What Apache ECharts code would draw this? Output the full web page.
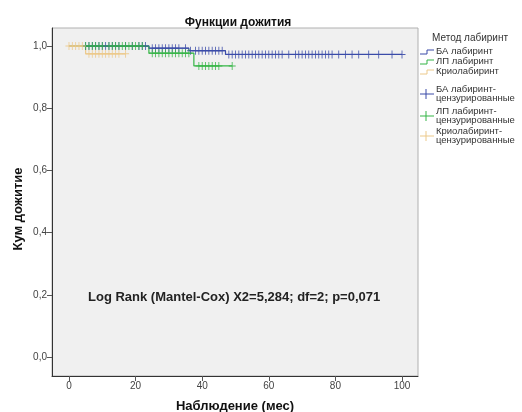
<!DOCTYPE html>
<html>
<head>
<meta charset="utf-8">
<script src="https://cdn.jsdelivr.net/npm/echarts@6/dist/echarts.min.js"></script>
<style>
html,body{margin:0;padding:0;background:#fff;}
#c{width:522px;height:412px;}
</style>
</head>
<body>
<div id="c"></div>
<script>
// ---- Data ----
var title = 'Функции дожития';
var xName = 'Наблюдение (мес)';
var yName = 'Кум дожитие';
var testText = 'Log Rank (Mantel-Cox) X2=5,284; df=2; p=0,071';
var legendTitle = 'Метод лабиринт';
var groupNames = ['БА лабиринт', 'ЛП лабиринт', 'Криолабиринт'];
var censNames = ['БА лабиринт-\nцензурированные', 'ЛП лабиринт-\nцензурированные', 'Криолабиринт-\nцензурированные'];
var xTicks = [0, 20, 40, 60, 80, 100];
var yTicks = [0, 0.2, 0.4, 0.6, 0.8, 1.0];

// Kaplan–Meier steps: [time, survival]
var stepsBA = [[0, 1.0], [24, 0.993], [36, 0.985], [47, 0.973], [100, 0.973]];
var stepsLP = [[0, 1.0], [24, 0.977], [37.5, 0.936], [49, 0.936]];
var stepsCryo = [[0, 1.0], [5, 0.975], [17, 0.975]];

// Censored times
var censBA = [5,6,7,8,9,10,11,12,13,14,15,17,19,21,22,23,25,26,27,28,29,30,31,32,33,35,36.5,38,39,40,41,42,43,44,45,46,48,49,50,51,52,53,54,55,56,57,58,59,60,61,62,63,64,66,68,69,70,71,72,73,74,75,76,77,78,79,81,83,85,87,90,93,97,100];
var censLP = [5,6,7,8,9,10,12,13,14,15,16,17,18,19,20,21,22,25,26,27,28,29,30,31,32,33,34,35,36,39,40,41,42,43,44,45,49];
var censCryo = [0,1,2,3,4,6,7,8,9,10,11,12,13,14,15,17];

var colors = ['#3b4ba8', '#35b546', '#ecc98a'];

// ---- Helpers ----
function survAt(steps, t) {
  var s = steps[0][1];
  for (var i = 0; i < steps.length; i++) { if (steps[i][0] <= t) s = steps[i][1]; }
  return s;
}
function censPts(steps, times) {
  return times.map(function (t) { return [t, survAt(steps, t)]; });
}
var plus = 'path://M4.4,0H5.6V4.4H10V5.6H5.6V10H4.4V5.6H0V4.4H4.4Z';
function fmt(v) { return v.toFixed(1).replace('.', ','); }

var chart = echarts.init(document.getElementById('c'), null, {renderer: 'canvas'});
var stepsAll = [stepsBA, stepsLP, stepsCryo];
var censAll = [censBA, censLP, censCryo];
var series = [];
for (var g = 0; g < 3; g++) {
  series.push({
    type: 'line', name: groupNames[g], step: 'end', data: stepsAll[g],
    showSymbol: false, symbol: 'none', lineStyle: {color: colors[g], width: 1.2},
    silent: true, animation: false, z: 2 + g
  });
}
for (var g2 = 0; g2 < 3; g2++) {
  series.push({
    type: 'scatter', name: censNames[g2], data: censPts(stepsAll[g2], censAll[g2]),
    symbol: plus, symbolSize: [7, 8], itemStyle: {color: colors[g2], opacity: 0.9},
    silent: true, animation: false, z: 5 + g2
  });
}

// legend built as graphics
var lg = [];
var lx = 420;
var FF = '"Liberation Sans", Arial';
lg.push({type: 'text', left: 432, top: 33, style: {text: legendTitle, font: '10px ' + FF, fill: '#333'}});
var rowY = [52, 62, 72];
for (var i = 0; i < 3; i++) {
  lg.push({type: 'polyline', shape: {points: [[lx, rowY[i] + 2], [lx + 7, rowY[i] + 2], [lx + 7, rowY[i] - 2], [lx + 14, rowY[i] - 2]]}, style: {stroke: colors[i], lineWidth: 1, fill: null}});
  lg.push({type: 'text', left: 436, top: rowY[i] - 6, style: {text: groupNames[i], font: '9.5px ' + FF, fill: '#333'}});
}
var cY = [94, 116, 136];
for (var j = 0; j < 3; j++) {
  lg.push({type: 'line', shape: {x1: lx, y1: cY[j], x2: lx + 14, y2: cY[j]}, style: {stroke: colors[j], lineWidth: 1}});
  lg.push({type: 'line', shape: {x1: lx + 6, y1: cY[j] - 5, x2: lx + 6, y2: cY[j] + 5}, style: {stroke: colors[j], lineWidth: 1}});
  lg.push({type: 'text', left: 436, top: cY[j] - 10, style: {text: censNames[j], font: '9.5px ' + FF, fill: '#333', lineHeight: 9}});
}

chart.setOption({
  backgroundColor: '#ffffff',
  animation: false,
  title: {text: title, left: 233, top: 12, textAlign: 'center',
    textStyle: {fontFamily: FF, fontSize: 12, fontWeight: 'bold', color: '#111'}},
  grid: {left: 52, right: 104, top: 28, bottom: 36, containLabel: false, outerBoundsMode: 'none',
    show: true, backgroundColor: '#f0f0f0', borderColor: '#b0b0b0', borderWidth: 1},
  xAxis: {
    type: 'value', min: -5.1, max: 104.8,
    name: xName, nameLocation: 'middle', nameGap: 24,
    nameTextStyle: {fontFamily: FF, fontSize: 13, fontWeight: 'bold', color: '#111'},
    axisLine: {show: true, onZero: false, lineStyle: {color: '#333', width: 1}},
    axisTick: {show: true, length: 5, lineStyle: {color: '#555'}, customValues: xTicks},
    axisLabel: {customValues: xTicks, fontFamily: FF, fontSize: 10, color: '#444', margin: 5},
    splitLine: {show: false}
  },
  yAxis: {
    type: 'value', min: -0.061, max: 1.058,
    axisLine: {show: true, onZero: false, lineStyle: {color: '#333', width: 1}},
    axisTick: {show: true, length: 5, lineStyle: {color: '#555'}, customValues: yTicks},
    axisLabel: {customValues: yTicks, formatter: fmt, fontFamily: FF, fontSize: 10, color: '#444', margin: 5},
    splitLine: {show: false}
  },
  graphic: lg.concat([
    {type: 'text', x: 18, y: 209, rotation: Math.PI / 2,
      style: {text: yName, font: 'bold 13px ' + FF, fill: '#111', align: 'center', verticalAlign: 'middle'}},
    {type: 'text', left: 88, top: 291, style: {text: testText, font: 'bold 13px ' + FF, fill: '#222'}}
  ]),
  series: series
});
</script>
</body>
</html>
